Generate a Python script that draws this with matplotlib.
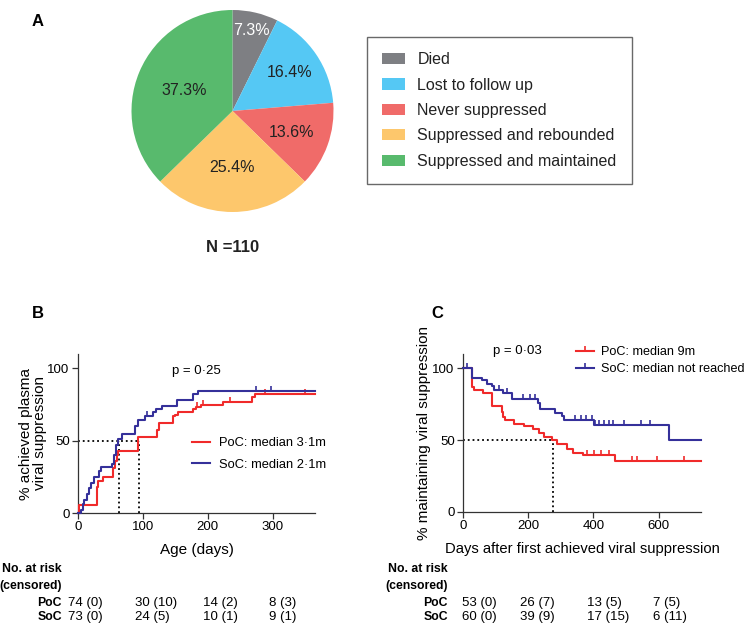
import numpy as np
import matplotlib.pyplot as plt
from matplotlib.path import Path
from matplotlib.lines import Line2D

plt.rcParams['font.family'] = ['Liberation Sans', 'DejaVu Sans']

# ---- panel A: outcome of the cohort ----
outcomes = ['Died', 'Lost to follow up', 'Never suppressed',
            'Suppressed and rebounded', 'Suppressed and maintained']
outcome_pct = [7.3, 16.4, 13.6, 25.4, 37.3]
outcome_colors = ['#7e7f83', '#55c8f4', '#f06b69', '#fdc76c', '#58ba6d']
n_total = 110

# ---- panel B: time to viral suppression (age, days) ----
b_poc_t = [0, 1, 29, 30, 31, 39, 54, 57, 60, 62, 92, 121, 124, 146, 150, 154,
           177, 181, 190, 223, 268, 272, 365]
b_poc_y = [0, 5.5, 12, 18, 22, 25, 31, 36, 40, 43, 52.5, 57.6, 62.5, 67, 68,
           69.7, 72, 73, 75, 76.5, 80, 82, 82]
b_poc_cens = [183, 192, 234, 288, 349]
b_soc_t = [0, 5, 7, 10, 14, 17, 20, 25, 32, 36, 52, 56, 58, 62, 67, 88, 92,
           103, 115, 120, 129, 152, 177, 185, 365]
b_soc_y = [0, 2, 6, 9, 13, 17, 21, 25, 29, 31.5, 34, 40, 47, 51, 55, 60, 64.5,
           67, 70, 72, 74, 78, 82, 84.7, 84.7]
b_soc_cens = [106, 274, 298]
b_median = {'PoC': 94, 'SoC': 63.5}
b_ticks = [0, 100, 200, 300]
b_risk = {'PoC': ['74 (0)', '30 (10)', '14 (2)', '8 (3)'],
          'SoC': ['73 (0)', '24 (5)', '10 (1)', '9 (1)']}

# ---- panel C: maintaining suppression ----
c_poc_t = [0, 27, 29, 33, 62, 88, 119, 124, 129, 155, 186, 216, 232, 247, 273,
           288, 319, 336, 367, 466, 730]
c_poc_y = [100, 92, 87, 84.7, 82.6, 74, 69.6, 66.2, 64, 61.6, 60, 57.6, 55.3,
           52.3, 50, 47.2, 44.2, 41.4, 39.6, 35.4, 35.4]
c_poc_cens = [381, 401, 422, 447, 517, 534, 594, 678]
c_soc_t = [0, 27, 57, 73, 88, 95, 124, 150, 229, 237, 283, 304, 309, 401, 631, 730]
c_soc_y = [100, 93.3, 91.7, 89.4, 87.5, 85, 82.6, 79, 75.6, 72, 69, 66.7, 64,
           60.4, 50, 50]
c_soc_cens = [11, 109, 136, 183, 206, 222, 345, 362, 378, 395, 406, 416, 432,
              447, 461, 495, 545, 575]
c_median = 277
c_ticks = [0, 200, 400, 600]
c_risk = {'PoC': ['53 (0)', '26 (7)', '13 (5)', '7 (5)'],
          'SoC': ['60 (0)', '39 (9)', '17 (15)', '6 (11)']}

RED = '#f02a2a'
BLUE = '#35309a'
AXC = '#333333'
W, H = 745, 636

fig = plt.figure(figsize=(W / 100, H / 100), dpi=100)


def px_axes(l, t, r, b):
    return fig.add_axes([l / W, 1 - b / H, (r - l) / W, (b - t) / H])


def fx(x):
    return x / W


def fy(y):
    return 1 - y / H


tick_mark = Path([(0, 0), (0, 1)], [Path.MOVETO, Path.LINETO])


def km(ax, t, y, cens, color):
    ax.step(t, y, where='post', color=color, lw=1.5, clip_on=False, zorder=3)
    t = np.asarray(t)
    y = np.asarray(y)
    idx = np.searchsorted(t, cens, side='right') - 1
    ax.plot(cens, y[idx], ls='none', marker=tick_mark, ms=7, mew=1.2,
            color=color, zorder=3)


def style(ax, xmax, ticks):
    for s in ['top', 'right']:
        ax.spines[s].set_visible(False)
    for s in ['left', 'bottom']:
        ax.spines[s].set_color(AXC)
        ax.spines[s].set_linewidth(0.9)
    ax.set_xlim(0, xmax)
    ax.set_ylim(0, 110)
    ax.set_xticks(ticks)
    ax.set_yticks([0, 50, 100])
    ax.tick_params(labelsize=9.5, length=4, width=0.9, color=AXC, pad=2)


# ---- A ----
axa = px_axes(131.5, 10, 333.5, 212)
wedges, _, pcts = axa.pie(outcome_pct, colors=outcome_colors, startangle=90,
                          counterclock=False, autopct='%.1f%%', pctdistance=0.6,
                          wedgeprops=dict(linewidth=0),
                          textprops=dict(fontsize=11.5, color='#222222'))
radii = [0.82, 0.68, 0.62, 0.56, 0.52]
for txt, r in zip(pcts, radii):
    x, y = txt.get_position()
    txt.set_position((x * r / 0.6, y * r / 0.6))
pcts[0].set_color('white')
axa.set_xlim(-1, 1)
axa.set_ylim(-1, 1)
fig.text(fx(232.5), fy(248), f'N ={n_total}', ha='center', va='center',
         fontsize=12, fontweight='bold', color='#222222')
leg = fig.legend(wedges, outcomes, loc='upper left',
                 bbox_to_anchor=(fx(367), fy(37)), fontsize=11.5,
                 frameon=True, fancybox=False, edgecolor='#444444',
                 handlelength=1.4, handleheight=0.7, labelspacing=0.65,
                 handletextpad=0.8, borderpad=0.95, borderaxespad=0)
leg.get_frame().set_linewidth(1.0)
for t in leg.get_texts():
    t.set_color('#222222')

# ---- B ----
axb = px_axes(78, 354, 315, 513)
style(axb, 365, b_ticks)
km(axb, b_poc_t, b_poc_y, b_poc_cens, RED)
km(axb, b_soc_t, b_soc_y, b_soc_cens, BLUE)
axb.plot([0, b_median['PoC']], [50, 50], ls=':', color='black', lw=1.3, zorder=2)
for m in b_median.values():
    axb.plot([m, m], [0, 50], ls=':', color='black', lw=1.3, zorder=2)
axb.set_xlabel('Age (days)', fontsize=11, labelpad=7)
axb.set_ylabel('% achieved plasma\nviral suppression', fontsize=11,
               labelpad=0, linespacing=1.0)
axb.text(0.5, 0.89, 'p = 0·25', transform=axb.transAxes, ha='center',
         va='center', fontsize=9.5)
hb = [Line2D([], [], color=RED, lw=1.5), Line2D([], [], color=BLUE, lw=1.5)]
fig.legend(hb, ['PoC: median 3·1m', 'SoC: median 2·1m'], loc='upper left',
           bbox_to_anchor=(fx(192), fy(437)), frameon=False, fontsize=9.3,
           handlelength=1.4, handletextpad=0.7, labelspacing=0.75,
           borderpad=0, borderaxespad=0)

# ---- C ----
axc = px_axes(463, 354, 701, 512)
style(axc, 730, c_ticks)
km(axc, c_poc_t, c_poc_y, c_poc_cens, RED)
km(axc, c_soc_t, c_soc_y, c_soc_cens, BLUE)
axc.plot([0, c_median], [50, 50], ls=':', color='black', lw=1.3, zorder=2)
axc.plot([c_median, c_median], [0, 50], ls=':', color='black', lw=1.3, zorder=2)
axc.set_xlabel('Days after first achieved viral suppression', fontsize=10.6,
               labelpad=7)
axc.set_ylabel('% maintaining viral suppression', fontsize=11, labelpad=1)
axc.text(0.23, 1.02, 'p = 0·03', transform=axc.transAxes, ha='center',
         va='center', fontsize=9.5)
hc = [Line2D([], [], color=RED, lw=1.5, marker=tick_mark, ms=7, mew=1.2),
      Line2D([], [], color=BLUE, lw=1.5, marker=tick_mark, ms=7, mew=1.2)]
fig.legend(hc, ['PoC: median 9m', 'SoC: median not reached'], loc='upper left',
           bbox_to_anchor=(fx(576), fy(346)), frameon=False, fontsize=9.1,
           handlelength=1.4, handletextpad=0.6, labelspacing=0.4,
           borderpad=0, borderaxespad=0)

# ---- number at risk tables ----
rows_y = [569, 586, 603, 617]


def risk_table(x_head, cols, risk):
    fig.text(fx(x_head), fy(rows_y[0]), 'No. at risk', ha='right', va='center',
             fontsize=8.8, fontweight='bold')
    fig.text(fx(x_head), fy(rows_y[1]), '(censored)', ha='right', va='center',
             fontsize=8.8, fontweight='bold')
    for yy, arm in zip(rows_y[2:], ['PoC', 'SoC']):
        fig.text(fx(x_head), fy(yy), arm, ha='right', va='center',
                 fontsize=8.8, fontweight='bold')
        for xc, val in zip(cols, risk[arm]):
            fig.text(fx(xc), fy(yy), val, ha='left', va='center', fontsize=9.5)


risk_table(62, [68, 135, 203, 269], b_risk)
risk_table(448, [462, 520, 587, 653], c_risk)

# panel letters
for lab, x, y in [('A', 38, 22), ('B', 38, 313), ('C', 437, 313)]:
    fig.text(fx(x), fy(y), lab, ha='center', va='center', fontsize=12,
             fontweight='bold')

fig.savefig('out.png', dpi=100)
